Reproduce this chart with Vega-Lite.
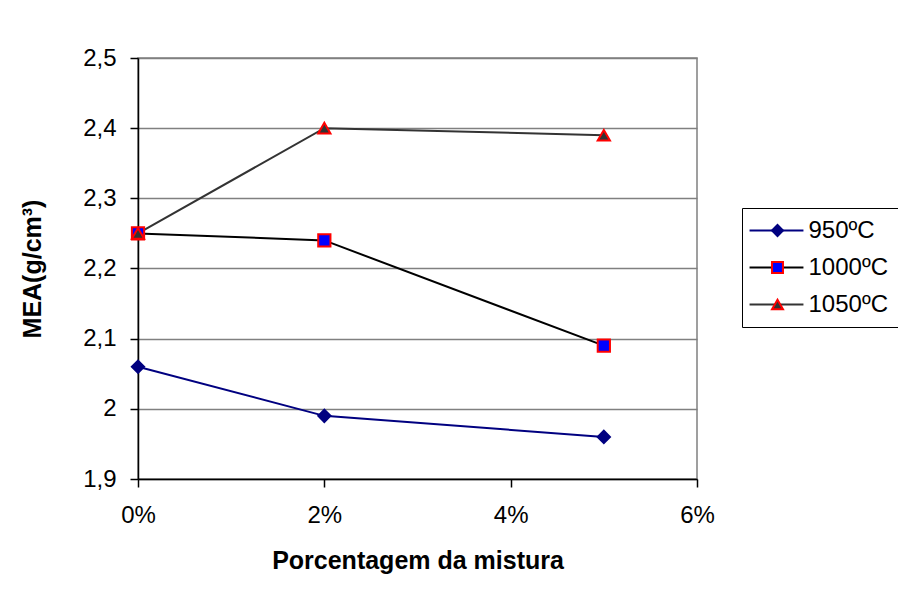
{
  "$schema": "https://vega.github.io/schema/vega-lite/v6.json",
  "width": 559,
  "height": 421,
  "autosize": {"type": "none"},
  "padding": {"left": 138, "top": 58, "right": 201, "bottom": 117},
  "background": "white",
  "config": {
    "font": "Liberation Sans",
    "view": {"stroke": "#808080", "strokeWidth": 1.5},
    "axis": {
      "labelFont": "Liberation Sans",
      "labelFontSize": 24,
      "labelColor": "#000000",
      "titleFont": "Liberation Sans",
      "titleFontSize": 25,
      "titleFontWeight": "bold",
      "titleColor": "#000000",
      "domainColor": "#000000",
      "domainWidth": 1.5,
      "tickColor": "#000000",
      "tickWidth": 1.5,
      "tickSize": 8
    },
    "legend": {
      "labelFont": "Liberation Sans",
      "labelFontSize": 24,
      "labelColor": "#000000"
    }
  },
  "data": {
    "values": [
      {"mistura": 0.0, "mea": 2.06, "serie": "950ºC", "ordem": 1},
      {"mistura": 0.02, "mea": 1.99, "serie": "950ºC", "ordem": 1},
      {"mistura": 0.05, "mea": 1.96, "serie": "950ºC", "ordem": 1},
      {"mistura": 0.0, "mea": 2.25, "serie": "1000ºC", "ordem": 2},
      {"mistura": 0.02, "mea": 2.24, "serie": "1000ºC", "ordem": 2},
      {"mistura": 0.05, "mea": 2.09, "serie": "1000ºC", "ordem": 2},
      {"mistura": 0.0, "mea": 2.25, "serie": "1050ºC", "ordem": 3},
      {"mistura": 0.02, "mea": 2.40, "serie": "1050ºC", "ordem": 3},
      {"mistura": 0.05, "mea": 2.39, "serie": "1050ºC", "ordem": 3}
    ]
  },
  "encoding": {
    "x": {
      "field": "mistura",
      "type": "quantitative",
      "scale": {"domain": [0, 0.06], "nice": false, "zero": false},
      "axis": {
        "values": [0, 0.02, 0.04, 0.06],
        "format": ".0%",
        "grid": false,
        "labelFlush": false,
        "labelPadding": 16,
        "title": "Porcentagem da mistura",
        "titlePadding": 21
      }
    },
    "y": {
      "field": "mea",
      "type": "quantitative",
      "scale": {"domain": [1.9, 2.5], "nice": false, "zero": false},
      "axis": {
        "values": [1.9, 2.0, 2.1, 2.2, 2.3, 2.4, 2.5],
        "labelExpr": "replace(format(datum.value, '.1~f'), '.', ',')",
        "grid": true,
        "gridColor": "#808080",
        "gridWidth": 1.5,
        "gridOpacity": 1,
        "labelFlush": false,
        "labelPadding": 14,
        "title": "MEA(g/cm³)",
        "titlePadding": 37
      }
    }
  },
  "layer": [
    {
      "mark": {"type": "line", "strokeWidth": 2},
      "encoding": {
        "color": {
          "field": "serie",
          "type": "nominal",
          "scale": {
            "domain": ["950ºC", "1000ºC", "1050ºC"],
            "range": ["#000080", "#000000", "#333333"]
          },
          "legend": {
            "orient": "none",
            "legendX": 604,
            "legendY": 150,
            "title": null,
            "symbolType": "M-4.9,0H4.9",
            "symbolSize": 121,
            "symbolStrokeWidth": 2,
            "strokeColor": "#000000",
            "padding": 10.5,
            "rowPadding": 13,
            "encode": {
              "symbols": {"update": {"x": {"value": 24}}},
              "labels": {"update": {"x": {"value": 56}}}
            }
          }
        }
      }
    },
    {
      "mark": {"type": "point", "filled": true, "opacity": 1, "size": 150, "strokeWidth": 2},
      "encoding": {
        "shape": {
          "field": "serie",
          "type": "nominal",
          "sort": {"field": "ordem", "op": "min"},
          "scale": {"range": ["diamond", "square", "triangle-up"]},
          "legend": {
            "orient": "none",
            "legendX": 617,
            "legendY": 150,
            "title": null,
            "padding": 10.5,
            "rowPadding": 13,
            "labelExpr": "''",
            "symbolSize": 120,
            "symbolStrokeWidth": 2,
            "encode": {
              "symbols": {
                "update": {
                  "fill": {"scale": "fill", "field": "value"},
                  "stroke": {"scale": "stroke", "field": "value"},
                  "opacity": {"value": 1}
                }
              }
            }
          }
        },
        "fill": {
          "field": "serie",
          "type": "nominal",
          "sort": {"field": "ordem", "op": "min"},
          "scale": {"range": ["#000080", "#0000FF", "#333333"]},
          "legend": null
        },
        "stroke": {
          "field": "serie",
          "type": "nominal",
          "sort": {"field": "ordem", "op": "min"},
          "scale": {"range": ["#000080", "#FF0000", "#FF0000"]},
          "legend": null
        }
      }
    }
  ]
}
